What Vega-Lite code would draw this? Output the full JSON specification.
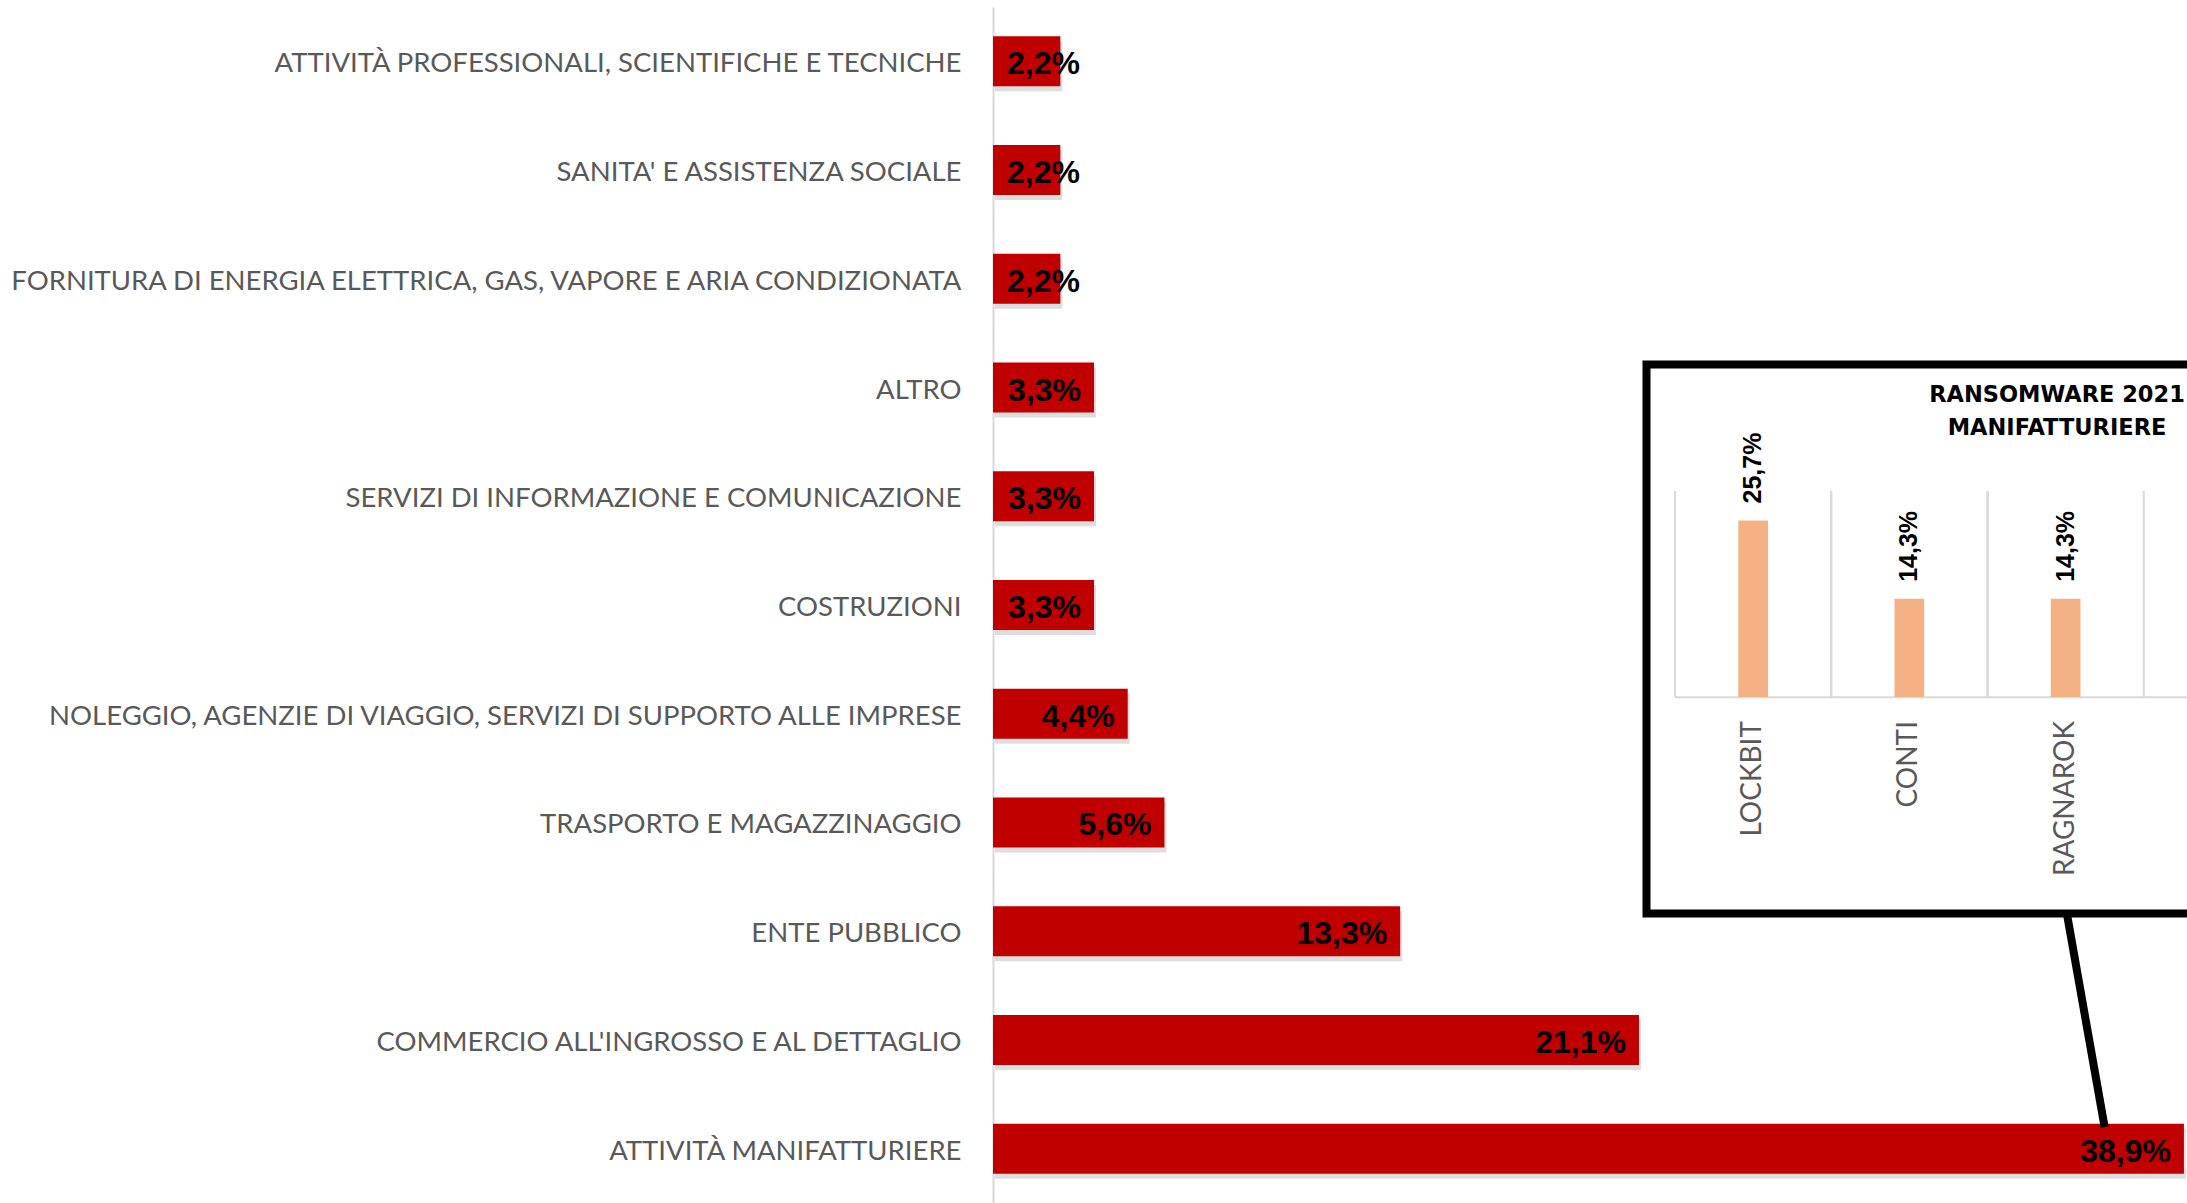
{
  "$schema": "https://vega.github.io/schema/vega-lite/v6.json",
  "autosize": {"type": "none"},
  "width": 1194,
  "height": 1196,
  "padding": {"left": 993, "top": 7, "right": 0, "bottom": 0},
  "background": "white",
  "config": {
    "view": {"stroke": null},
    "locale": {"number": {"decimal": ",", "thousands": ".", "grouping": [3], "currency": ["", " €"]}}
  },
  "datasets": {
    "settori": [
      {"settore": "ATTIVITÀ PROFESSIONALI, SCIENTIFICHE E TECNICHE", "quota": 0.022},
      {"settore": "SANITA' E ASSISTENZA SOCIALE", "quota": 0.022},
      {"settore": "FORNITURA DI ENERGIA ELETTRICA, GAS, VAPORE E ARIA CONDIZIONATA", "quota": 0.022},
      {"settore": "ALTRO", "quota": 0.033},
      {"settore": "SERVIZI DI INFORMAZIONE E COMUNICAZIONE", "quota": 0.033},
      {"settore": "COSTRUZIONI", "quota": 0.033},
      {"settore": "NOLEGGIO, AGENZIE DI VIAGGIO, SERVIZI DI SUPPORTO ALLE IMPRESE", "quota": 0.044},
      {"settore": "TRASPORTO E MAGAZZINAGGIO", "quota": 0.056},
      {"settore": "ENTE PUBBLICO", "quota": 0.133},
      {"settore": "COMMERCIO ALL'INGROSSO E AL DETTAGLIO", "quota": 0.211},
      {"settore": "ATTIVITÀ MANIFATTURIERE", "quota": 0.389}
    ],
    "ransomware": [
      {"gruppo": "LOCKBIT", "quota": 0.257},
      {"gruppo": "CONTI", "quota": 0.143},
      {"gruppo": "RAGNAROK", "quota": 0.143}
    ]
  },
  "layer": [
    {
      "data": {"name": "settori"},
      "encoding": {
        "y": {
          "field": "settore", "type": "nominal", "sort": null,
          "scale": {"paddingInner": 0.54, "paddingOuter": 0.27},
          "axis": {
            "title": null, "ticks": false, "labelPadding": 32, "labelLimit": 1200, "labelOffset": 3,
            "labelFont": "Lato", "labelFontSize": 27.5, "labelColor": "#595959",
            "domainColor": "#d9d9d9", "domainWidth": 2
          }
        },
        "x": {
          "field": "quota", "type": "quantitative",
          "scale": {"domain": [0, 0.39], "nice": false, "zero": true},
          "axis": null
        }
      },
      "layer": [
        {"mark": {"type": "bar", "color": "#000000", "opacity": 0.13, "yOffset": 5, "xOffset": 2}},
        {"mark": {"type": "bar", "color": "#C00000"}},
        {
          "transform": [{"filter": "datum.quota > 0.025"}],
          "mark": {"type": "text", "align": "right", "baseline": "middle", "dx": -13, "dy": 3, "font": "Liberation Sans", "fontWeight": "bold", "fontSize": 32, "color": "#000000"},
          "encoding": {"text": {"field": "quota", "type": "quantitative", "format": ".1%"}}
        },
        {
          "transform": [{"filter": "datum.quota <= 0.025"}],
          "mark": {"type": "text", "align": "left", "baseline": "middle", "dx": 14, "dy": 3, "font": "Liberation Sans", "fontWeight": "bold", "fontSize": 32, "color": "#000000"},
          "encoding": {
            "x": {"datum": 0, "type": "quantitative"},
            "text": {"field": "quota", "type": "quantitative", "format": ".1%"}
          }
        }
      ]
    },
    {
      "data": {"values": [{}]},
      "encoding": {
        "x": {"datum": 0, "type": "quantitative", "scale": {"domain": [0, 1], "range": [653.5, 1474.5]}, "axis": null},
        "y": {"datum": 0, "type": "quantitative", "scale": {"domain": [0, 1], "range": [906.5, 357.5]}, "axis": null}
      },
      "layer": [
        {
          "mark": {"type": "rect", "fill": "white", "stroke": "#000000", "strokeWidth": 8},
          "encoding": {
            "x2": {"datum": 1},
            "y2": {"datum": 1}
          }
        },
        {
          "mark": {"type": "rule", "color": "#d9d9d9", "strokeWidth": 2},
          "encoding": {
            "x": {"datum": 0.0347, "type": "quantitative"},
            "x2": {"datum": 1},
            "y": {"datum": 0.394, "type": "quantitative"}
          }
        },
        {
          "mark": {"type": "rule", "color": "#000000", "strokeWidth": 8},
          "encoding": {
            "x": {"datum": 0.512, "type": "quantitative"},
            "x2": {"datum": 0.558},
            "y": {"datum": 0, "type": "quantitative"},
            "y2": {"datum": -0.389}
          }
        },
        {
          "mark": {"type": "text", "text": ["RANSOMWARE 2021", "MANIFATTURIERE"], "align": "center", "baseline": "alphabetic", "lineHeight": 33, "font": "DejaVu Sans", "fontWeight": "bold", "fontSize": 22.5, "color": "#000000"},
          "encoding": {
            "x": {"datum": 0.5, "type": "quantitative"},
            "y": {"datum": 0.932, "type": "quantitative"}
          }
        }
      ]
    },
    {
      "data": {"name": "ransomware"},
      "encoding": {
        "x": {
          "field": "gruppo", "type": "nominal", "sort": null,
          "scale": {"range": [682, 1307], "paddingInner": 0, "paddingOuter": 0.5, "align": 0},
          "axis": null
        },
        "y": {
          "field": "quota", "type": "quantitative",
          "scale": {"domain": [0, 0.3], "range": [690, 484], "nice": false},
          "axis": null
        }
      },
      "layer": [
        {
          "mark": {"type": "rule", "color": "#d9d9d9", "strokeWidth": 2},
          "encoding": {
            "x": {"field": "gruppo", "type": "nominal", "sort": null, "bandPosition": 0},
            "y": {"datum": 0, "type": "quantitative"},
            "y2": {"datum": 0.3}
          }
        },
        {
          "mark": {"type": "rule", "color": "#d9d9d9", "strokeWidth": 2},
          "encoding": {
            "x": {"field": "gruppo", "type": "nominal", "sort": null, "bandPosition": 1},
            "y": {"datum": 0, "type": "quantitative"},
            "y2": {"datum": 0.3}
          }
        },
        {"mark": {"type": "bar", "color": "#F4B183", "width": {"band": 0.19}}},
        {
          "mark": {"type": "text", "angle": 270, "align": "left", "baseline": "middle", "dx": 17, "font": "Liberation Sans", "fontWeight": "bold", "fontSize": 25, "color": "#000000"},
          "encoding": {"text": {"field": "quota", "type": "quantitative", "format": ".1%"}}
        },
        {
          "mark": {"type": "text", "angle": 270, "align": "right", "baseline": "middle", "dx": -24, "font": "Lato", "fontSize": 28, "color": "#595959"},
          "encoding": {
            "y": {"datum": 0, "type": "quantitative"},
            "text": {"field": "gruppo", "type": "nominal"}
          }
        }
      ]
    }
  ],
  "resolve": {
    "scale": {"x": "independent", "y": "independent"},
    "axis": {"x": "independent", "y": "independent"}
  }
}
